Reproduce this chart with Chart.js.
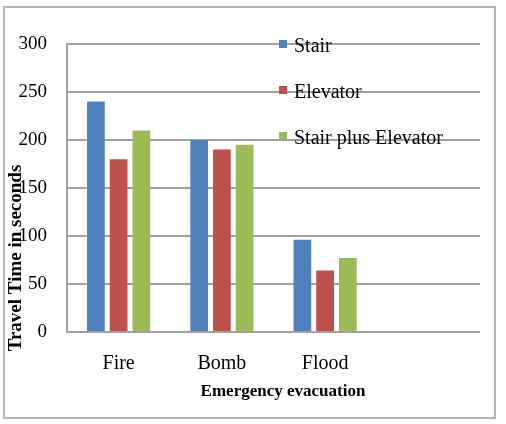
<!DOCTYPE html>
<html>
<head>
<meta charset="utf-8">
<script src="https://cdn.jsdelivr.net/npm/chart.js"></script>
<style>
  body { margin: 0; background: #fff; }
</style>
</head>
<body>
<canvas id="chart" width="506" height="424"></canvas>
<script>
const categories = ['Fire', 'Bomb', 'Flood', ''];
const stair = [240, 200, 96];
const elevator = [180, 190, 64];
const stairPlusElevator = [210, 195, 77];
const yTicks = [0, 50, 100, 150, 200, 250, 300];

const serif = '"Liberation Serif", "Times New Roman", serif';

// frame, legend and axis titles are drawn by hand so they sit where Excel put them
const decor = {
  id: 'decor',
  beforeDraw: chart => {
    const ctx = chart.ctx;
    ctx.save();
    ctx.fillStyle = '#fff';
    ctx.fillRect(0, 0, chart.width, chart.height);
    ctx.strokeStyle = '#b4b4b4';
    ctx.lineWidth = 2;
    ctx.strokeRect(4, 7, 491, 411);
    ctx.restore();
  },
  afterDraw: chart => {
    const ctx = chart.ctx;
    ctx.save();
    ctx.textBaseline = 'middle';
    ctx.font = '20px ' + serif;
    chart.data.datasets.forEach((ds, i) => {
      const y = 47 + i * 46;
      ctx.fillStyle = ds.backgroundColor;
      ctx.fillRect(279, y - 7, 8, 8);
      ctx.fillStyle = '#000';
      ctx.fillText(ds.label, 294, y);
    });

    ctx.textAlign = 'center';
    ctx.font = 'bold 17px ' + serif;
    ctx.fillText('Emergency evacuation', 283, 392);

    ctx.translate(16, 258);
    ctx.rotate(-Math.PI / 2);
    ctx.font = 'bold 19px ' + serif;
    ctx.fillText('Travel Time in seconds', 0, 0);
    ctx.restore();
  }
};

new Chart(document.getElementById('chart'), {
  type: 'bar',
  data: {
    labels: categories,
    datasets: [
      { label: 'Stair', data: stair, backgroundColor: '#4F81BD' },
      { label: 'Elevator', data: elevator, backgroundColor: '#C0504D' },
      { label: 'Stair plus Elevator', data: stairPlusElevator, backgroundColor: '#9BBB59' }
    ]
  },
  options: {
    responsive: false,
    animation: false,
    categoryPercentage: 0.66,
    barPercentage: 0.78,
    layout: { padding: { left: 0, right: 26, top: 44, bottom: 0 } },
    plugins: {
      legend: { display: false },
      tooltip: { enabled: false }
    },
    scales: {
      x: {
        grid: { display: false },
        border: { display: false },
        ticks: { color: '#000', padding: 12, font: { family: serif, size: 20 } },
        afterFit: scale => { scale.height = 92; }
      },
      y: {
        min: 0,
        max: 300,
        afterBuildTicks: scale => { scale.ticks = yTicks.map(v => ({ value: v })); },
        grid: { color: '#a0a0a0', lineWidth: 2, drawTicks: false },
        border: { display: true, color: '#a0a0a0', width: 2 },
        ticks: { color: '#000', padding: 20, font: { family: serif, size: 19 } },
        afterFit: scale => { scale.width = 67; }
      }
    }
  },
  plugins: [decor]
});
</script>
</body>
</html>
